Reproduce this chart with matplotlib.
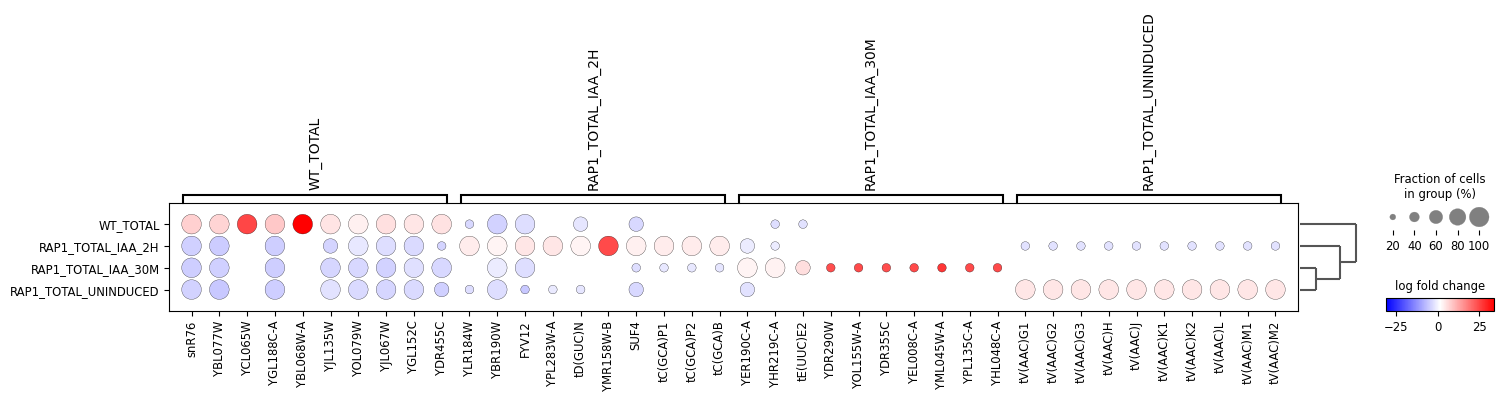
import numpy as np
import matplotlib
matplotlib.use("Agg")
import matplotlib.pyplot as plt
from matplotlib.colors import Normalize
from matplotlib.colorbar import ColorbarBase

# ---------------- data ----------------
groups = ["WT_TOTAL", "RAP1_TOTAL_IAA_2H", "RAP1_TOTAL_IAA_30M", "RAP1_TOTAL_UNINDUCED"]

genes_wt = ["snR76", "YBL077W", "YCL065W", "YGL188C-A", "YBL068W-A",
            "YJL135W", "YOL079W", "YJL067W", "YGL152C", "YDR455C"]
genes_2h = ["YLR184W", "YBR190W", "FYV12", "YPL283W-A", "tD(GUC)N",
            "YMR158W-B", "SUF4", "tC(GCA)P1", "tC(GCA)P2", "tC(GCA)B"]
genes_30m = ["YER190C-A", "YHR219C-A", "tE(UUC)E2", "YDR290W", "YOL155W-A",
             "YDR355C", "YEL008C-A", "YML045W-A", "YPL135C-A", "YHL048C-A"]
genes_un = ["tV(AAC)G1", "tV(AAC)G2", "tV(AAC)G3", "tV(AAC)H", "tV(AAC)J",
            "tV(AAC)K1", "tV(AAC)K2", "tV(AAC)L", "tV(AAC)M1", "tV(AAC)M2"]
gene_groups = [genes_wt, genes_2h, genes_30m, genes_un]

t1, t2 = 1 / 3, 2 / 3
# fraction of cells expressing (rows = groups)
frac_wt = [1, 1, 1, 1, 1, 1, 1, 1, 1, 1,
           t1, 1, 1, 0, t2, 0, t2, 0, 0, 0,
           0, t1, t1, 0, 0, 0, 0, 0, 0, 0,
           0, 0, 0, 0, 0, 0, 0, 0, 0, 0]
frac_2h = [1, 1, 0, 1, 0, t2, 1, 1, 1, t1,
           1, 1, 1, 1, 1, 1, 1, 1, 1, 1,
           t2, t1, 0, 0, 0, 0, 0, 0, 0, 0,
           t1, t1, t1, t1, t1, t1, t1, t1, t1, t1]
frac_30m = [1, 1, 0, 1, 0, 1, 1, 1, 1, 1,
            0, 1, 1, 0, 0, 0, t1, t1, t1, t1,
            1, 1, t2, t1, t1, t1, t1, t1, t1, t1,
            0, 0, 0, 0, 0, 0, 0, 0, 0, 0]
frac_un = [1, 1, 0, 1, 0, 1, 1, 1, 1, t2,
           t1, 1, t1, t1, t1, 0, t2, 0, 0, 0,
           t2, 0, 0, 0, 0, 0, 0, 0, 0, 0,
           1, 1, 1, 1, 1, 1, 1, 1, 1, 1]

# log fold change
lfc_wt = [7.5, 7.0, 25.0, 8.5, 34.0, 5.0, 3.5, 5.5, 4.8, 5.2,
          -3.4, -4.2, -2.8, 0, -1.6, 0, -3.4, 0, 0, 0,
          0, -2.8, -2.2, 0, 0, 0, 0, 0, 0, 0,
          0, 0, 0, 0, 0, 0, 0, 0, 0, 0]
lfc_2h = [-4.5, -5.0, 0, -4.7, 0, -4.0, -1.5, -2.8, -3.2, -4.0,
          3.8, 2.9, 4.8, 4.8, 2.9, 24.5, 3.5, 3.8, 4.0, 4.0,
          -1.0, -0.9, 0, 0, 0, 0, 0, 0, 0, 0,
          -2.2, -2.2, -2.2, -2.2, -2.2, -2.2, -2.2, -2.2, -2.2, -2.2]
lfc_30m = [-4.7, -4.5, 0, -4.7, 0, -3.8, -3.4, -4.1, -2.5, -3.4,
           0, -0.9, -2.8, 0, 0, 0, -2.8, -1.4, -1.4, -1.6,
           2.9, 3.2, 5.8, 24.0, 24.5, 24.0, 24.5, 27.0, 24.5, 24.5,
           0, 0, 0, 0, 0, 0, 0, 0, 0, 0]
lfc_un = [-4.1, -5.4, 0, -4.7, 0, -2.2, -3.2, -3.8, -3.2, -4.5,
          -2.8, -2.8, -5.6, -1.2, -1.6, 0, -3.4, 0, 0, 0,
          -2.2, 0, 0, 0, 0, 0, 0, 0, 0, 0,
          4.8, 4.8, 4.8, 4.8, 4.8, 4.8, 4.8, 4.8, 4.8, 4.8]

lfc_min, lfc_max = -31, 34
dendro_heights = [0.286, 0.714, 1.0]  # merges: (30M,UN), (+2H), (+WT)
size_legend_fracs = [0.2, 0.4, 0.6, 0.8, 1.0]
cbar_ticks = [-25, 0, 25]

# ---------------- figure ----------------
FW, FH = 1504, 401
fig = plt.figure(figsize=(FW / 100, FH / 100), dpi=100)


def px_axes(x0, y0, x1, y1):
    return fig.add_axes([x0 / FW, 1 - y1 / FH, (x1 - x0) / FW, (y1 - y0) / FH])


genes = [g for grp in gene_groups for g in grp]
frac = np.array([frac_wt, frac_2h, frac_30m, frac_un], dtype=float)
lfc = np.array([lfc_wt, lfc_2h, lfc_30m, lfc_un], dtype=float)
cmap = plt.get_cmap("bwr")
norm = Normalize(vmin=lfc_min, vmax=lfc_max)
largest_dot = 200.0

XLIM = (-0.8, len(genes) - 0.2)
YLIM = (len(groups) - 0.03, -0.97)

ax = px_axes(169.3, 203, 1297.7, 310.7)
yy, xx = np.nonzero(frac > 0)
ax.scatter(xx, yy, s=(frac[yy, xx] ** 1.5) * largest_dot, c=lfc[yy, xx],
           cmap=cmap, norm=norm, edgecolors="black", linewidths=0.2, zorder=3)
ax.set_xlim(*XLIM)
ax.set_ylim(*YLIM)
ax.set_xticks(np.arange(len(genes)))
ax.set_xticklabels(genes, rotation=90)
ax.set_yticks(np.arange(len(groups)))
ax.set_yticklabels(groups)
ax.tick_params(axis="both", labelsize="small")

# brackets
axb = px_axes(169.3, 0, 1297.7, 203)
axb.set_xlim(*XLIM)
axb.set_ylim(0, 203)
axb.axis("off")
start = 0
for name, grp in zip(groups, gene_groups):
    end = start + len(grp) - 1
    l, r = start - 0.3, end + 0.2
    axb.plot([l, l, r, r], [0, 8.3, 8.3, 0], color="black", lw=1.5,
             clip_on=False, solid_joinstyle="miter")
    axb.text((l + r) / 2, 13, name, rotation=90, ha="center",
             va="bottom", fontsize=10)
    start = end + 1

# dendrogram
axd = px_axes(1299, 203, 1360, 310.7)
axd.set_ylim(*YLIM)
axd.set_xlim(-1 / 56, 60 / 56)
axd.axis("off")
h1, h2, h3 = dendro_heights
dc = "#555555"
segs = [([0, h3], [0, 0]), ([0, h2], [1, 1]), ([0, h1], [2, 2]), ([0, h1], [3, 3]),
        ([h1, h1], [2, 3]), ([h1, h2], [2.5, 2.5]), ([h2, h2], [1, 2.5]),
        ([h2, h3], [1.75, 1.75]), ([h3, h3], [0, 1.75])]
for xs, ys in segs:
    axd.plot(xs, ys, color=dc, lw=1.5, solid_capstyle="butt")

# size legend
axs = px_axes(1382, 204, 1490, 230)
fr = np.array(size_legend_fracs)
axs.scatter(np.arange(len(fr)), np.zeros(len(fr)), s=(fr ** 1.5) * largest_dot,
            color="gray", edgecolors="gray", linewidths=0.2, zorder=3)
axs.set_xlim(-0.5, len(fr) - 0.5)
axs.set_ylim(-1, 1)
axs.set_xticks(np.arange(len(fr)))
axs.set_xticklabels([str(int(round(f * 100))) for f in fr])
axs.set_yticks([])
axs.tick_params(axis="x", labelsize="small")
for sp in axs.spines.values():
    sp.set_visible(False)
fig.text(1439.5 / FW, 1 - 201 / FH, "Fraction of cells\nin group (%)",
         ha="center", va="bottom", fontsize="small", multialignment="center")

# colorbar
axc = px_axes(1386, 298.3, 1494.3, 311)
cb = ColorbarBase(axc, cmap=cmap, norm=norm, orientation="horizontal")
cb.set_ticks(cbar_ticks)
axc.tick_params(labelsize="small")
axc.set_title("log fold change", fontsize="small")

fig.savefig("out.png", dpi=100)
